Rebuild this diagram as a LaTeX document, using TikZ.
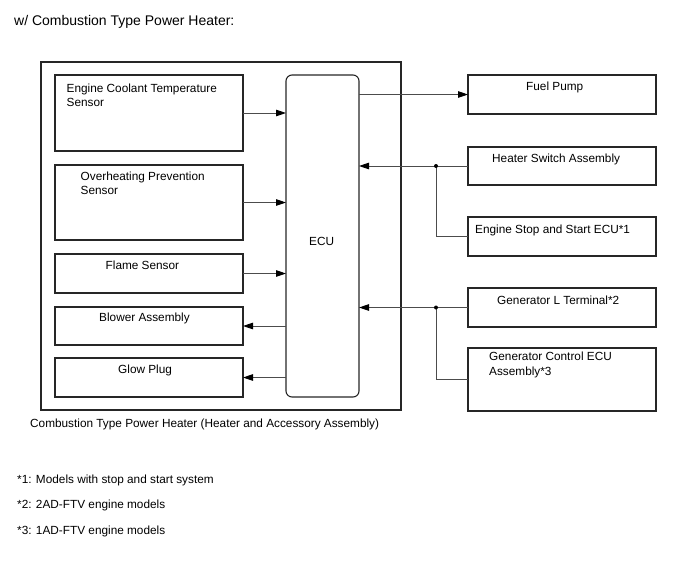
\documentclass[tikz,border=0pt]{standalone}
\usepackage{fontspec}
\setmainfont{Liberation Sans}
\usetikzlibrary{arrows.meta}
\begin{document}
\begin{tikzpicture}[x=1pt,y=-1pt,
  box/.style 2 args={draw=black!85, line width=1.1pt, inner sep=0pt, outer sep=0pt,
    anchor=north west, minimum width=#1, minimum height=#2},
  txt/.style={font=\fontsize{11.8}{14.5}\selectfont, inner sep=0pt, anchor=west,
    text height=8.4pt, text depth=0pt},
  mtxt/.style={font=\fontsize{11.8}{14.5}\selectfont, inner sep=0pt, anchor=west, align=left},
  conn/.style={draw=black!70, line width=0.9pt},
  arr/.style={conn, -{Triangle[length=10pt,width=6.5pt,color=black]}},
  jdot/.style={circle, fill=black, inner sep=0pt, minimum size=4pt}]
\useasboundingbox (0,0) rectangle (688,560);

% title
\node[txt, font=\fontsize{14}{16}\selectfont, text height=10pt] (title) at (14,20) {w/ Combustion Type Power Heater:};

% outer box
\node[box={360}{348}] (outer) at (41,62) {};
\node[txt] (cap) at (30,423) {Combustion Type Power Heater (Heater and Accessory Assembly)};

% ECU
\node[box={73}{322}, rounded corners=6pt] (ecu) at (286,75) {};
\node[txt] (ecut) at (309,241) {ECU};

% left boxes
\node[box={188}{76}] (cool) at (55,75) {};
\node[mtxt] (coolt) at (66.5,95.5) {Engine Coolant Temperature\\Sensor};
\node[box={188}{75}] (ovh) at (55,165) {};
\node[mtxt] (ovht) at (80.5,183.5) {Overheating Prevention\\Sensor};
\node[box={188}{39}] (flame) at (55,254) {};
\node[txt] (flamet) at (105.5,265.7) {Flame Sensor};
\node[box={188}{38}] (blow) at (55,307) {};
\node[txt] (blowt) at (99,317.7) {Blower Assembly};
\node[box={188}{39}] (glow) at (55,358) {};
\node[txt] (glowt) at (118,369) {Glow Plug};

% right boxes
\node[box={188}{39}] (fuel) at (468,75) {};
\node[txt] (fuelt) at (526,86.7) {Fuel Pump};
\node[box={188}{38}] (hsw) at (468,147) {};
\node[txt] (hswt) at (492,158) {Heater Switch Assembly};
\node[box={188}{39}] (ess) at (468,217) {};
\node[txt] (esst) at (475,229) {Engine Stop and Start ECU*1};
\node[box={188}{39}] (genl) at (468,288) {};
\node[txt] (genlt) at (497,300) {Generator L Terminal*2};
\node[box={188}{63}] (genc) at (468,348) {};
\node[mtxt] (genct) at (489,365) {Generator Control ECU\\Assembly*3};

% left connectors
\draw[arr] (cool.east) -- (cool.east -| ecu.west);
\draw[arr] (ovh.east) -- (ovh.east -| ecu.west);
\draw[arr] (flame.east) -- (flame.east -| ecu.west);
\draw[arr] (blow.east -| ecu.west) -- (blow.east);
\draw[arr] (glow.east -| ecu.west) -- (glow.east);

% right connectors
\draw[arr] (fuel.west -| ecu.east) -- (fuel.west);
\coordinate (j1) at (436,166);
\coordinate (j2) at (436,307.5);
\draw[arr] (hsw.west) -- (hsw.west -| ecu.east);
\draw[conn] (ess.west) -| (j1);
\node[jdot] (d1) at (j1) {};
\draw[arr] (genl.west) -- (genl.west -| ecu.east);
\draw[conn] (genc.west) -| (j2);
\node[jdot] (d2) at (j2) {};

% footnotes
\node[txt] (f1) at (17,479) {*1: Models with stop and start system};
\node[txt] (f2) at (17,504) {*2: 2AD-FTV engine models};
\node[txt] (f3) at (17,530) {*3: 1AD-FTV engine models};
\end{tikzpicture}
\end{document}
